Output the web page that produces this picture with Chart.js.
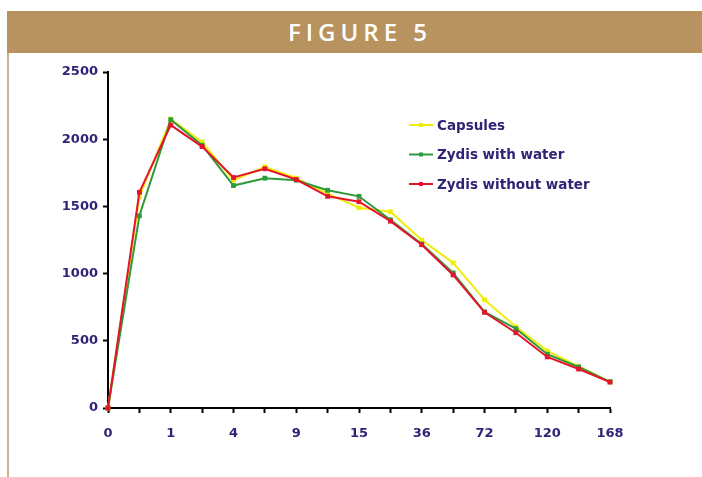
<!DOCTYPE html>
<html>
<head>
<meta charset="utf-8">
<script src="https://cdn.jsdelivr.net/npm/chart.js@4/dist/chart.umd.min.js"></script>
<style>
  html, body { margin: 0; padding: 0; background: #fff; }
  #wrap { position: relative; width: 702px; height: 477px; overflow: hidden; }
  #band { position: absolute; left: 7px; top: 11px; width: 695px; height: 42px; background: #b8935f; }
  #title { position: absolute; left: 0; top: 0; width: 100%; height: 42px; line-height: 42px; text-align: center;
           font-family: "Open Sans", sans-serif; font-weight: 600; font-size: 24px; letter-spacing: 5px; color: #fff;
           padding-left: 11px; box-sizing: border-box; }
  #edge { position: absolute; left: 7px; top: 53px; width: 2px; height: 424px; background: #cdb188; }
  canvas { position: absolute; left: 0; top: 0; }
</style>
</head>
<body>
<div id="wrap">
  <div id="band"><div id="title">FIGURE 5</div></div>
  <div id="edge"></div>
  <canvas id="c" width="702" height="477"></canvas>
</div>
<script>
const categories = ['0','0.5','1','2','4','6','9','12','15','24','36','48','72','96','120','144','168'];
const tickLabels = ['0','1','4','9','15','36','72','120','168'];
const seriesNames = ['Capsules','Zydis with water','Zydis without water'];
const capsules        = [0,1570,2150,1980,1695,1795,1710,1595,1490,1460,1250,1080,805,605,425,310,195];
const zydisWithWater  = [0,1430,2145,1955,1655,1710,1695,1620,1575,1400,1220,1005,715,590,400,305,195];
const zydisNoWater    = [0,1605,2105,1945,1715,1780,1700,1575,1535,1390,1215,990,712,560,380,290,193];

const colors = ['#eeee0c','#2f9a3a','#e5132b'];
const textColor = '#2e2475';
const fontFamily = '"DejaVu Sans", Verdana, sans-serif';

function ds(label, data, color, order) {
  return { label, data, borderColor: color, backgroundColor: color, borderWidth: 2,
           pointStyle: 'rect', pointRadius: 3.4, pointBorderWidth: 0, tension: 0, clip: false, order };
}

const legendPlugin = {
  id: 'innerLegend',
  afterDatasetsDraw(chart) {
    const ctx = chart.ctx;
    const x0 = 409, x1 = 433, tx = 437, y0 = 125, dy = 29.5;
    ctx.save();
    chart.data.datasets.forEach((d, i) => {
      const y = y0 + i * dy;
      ctx.strokeStyle = d.borderColor; ctx.lineWidth = 2;
      ctx.beginPath(); ctx.moveTo(x0, y); ctx.lineTo(x1, y); ctx.stroke();
      ctx.fillStyle = d.borderColor;
      ctx.fillRect((x0 + x1) / 2 - 2, y - 2, 4, 4);
      ctx.fillStyle = textColor;
      ctx.font = 'bold 13.5px ' + fontFamily;
      ctx.textBaseline = 'middle';
      ctx.fillText(d.label, tx, y + 1);
    });
    ctx.restore();
  }
};

new Chart(document.getElementById('c'), {
  type: 'line',
  data: {
    labels: categories,
    datasets: [
      ds(seriesNames[0], capsules, colors[0], 2),
      ds(seriesNames[1], zydisWithWater, colors[1], 1),
      ds(seriesNames[2], zydisNoWater, colors[2], 0)
    ]
  },
  options: {
    responsive: false,
    animation: false,
    devicePixelRatio: 1,
    layout: { padding: { left: 0, top: 72, right: 92, bottom: 0 } },
    plugins: { legend: { display: false }, tooltip: { enabled: false } },
    scales: {
      x: {
        type: 'category',
        offset: false,
        afterFit(s) { s.height = 477 - 408; },
        grid: { drawOnChartArea: false, drawTicks: true, tickLength: 5, tickColor: '#000', tickWidth: 2 },
        border: { color: '#000', width: 2 },
        ticks: {
          autoSkip: false, maxRotation: 0, padding: 13, color: textColor,
          font: { family: fontFamily, size: 13, weight: 'bold' },
          callback: (v, i) => (i % 2 === 0 ? tickLabels[i / 2] : '')
        }
      },
      y: {
        min: 0, max: 2500,
        afterFit(s) { s.width = 108; },
        grid: { drawOnChartArea: false, drawTicks: true, tickLength: 5, tickColor: '#000', tickWidth: 2 },
        border: { color: '#000', width: 2 },
        ticks: {
          stepSize: 500, padding: 5, color: textColor,
          font: { family: fontFamily, size: 13, weight: 'bold' },
          callback: (v) => String(v)
        }
      }
    }
  },
  plugins: [legendPlugin]
});
</script>
</body>
</html>
